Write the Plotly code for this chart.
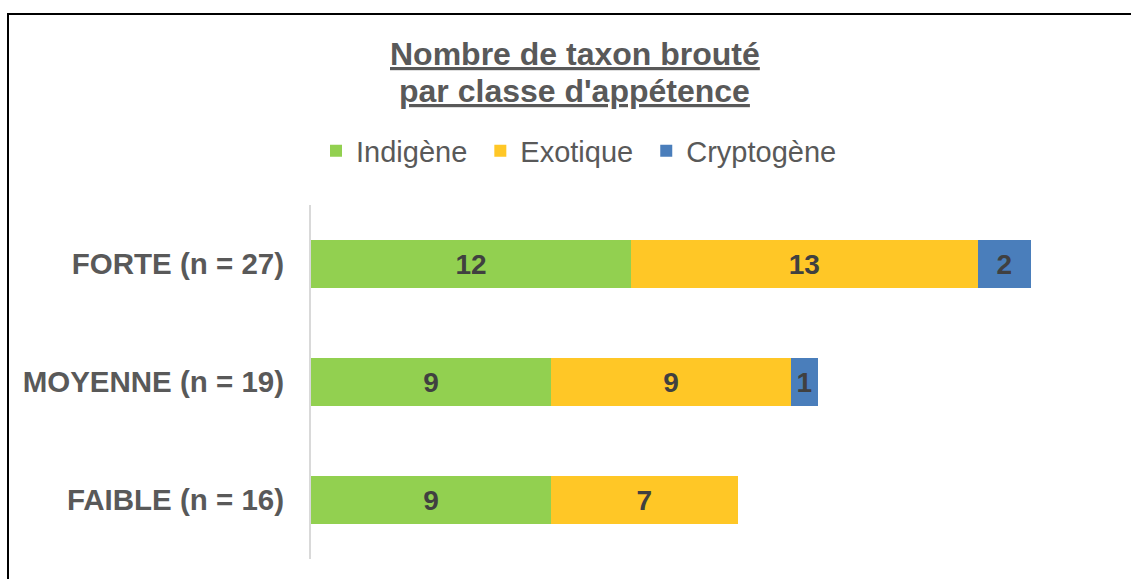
import plotly.graph_objects as go

# Appetence classes (bottom to top) and counts per origin status
categories = ["FAIBLE (n = 16)", "MOYENNE (n = 19)", "FORTE (n = 27)"]
indigene = [9, 9, 12]
exotique = [7, 9, 13]
cryptogene = [0, 1, 2]

series = [
    ("Indigène ", indigene, "#92D050"),
    ("Exotique ", exotique, "#FFC726"),
    ("Cryptogène", cryptogene, "#4A7EBB"),
]

title_lines = ["Nombre de taxon brouté", "par classe d'appétence"]

W, H = 1131, 579
ML, MR, MT, MB = 311, 20, 205, 20
PW, PH = W - ML - MR, H - MT - MB
FONT = "Liberation Sans, Arial"


def px_x(px):
    return (px - ML) / PW


def px_y(py):
    return (H - MB - py) / PH


fig = go.Figure()
for name, vals, color in series:
    fig.add_trace(go.Bar(
        y=categories,
        x=vals,
        name=name,
        orientation="h",
        marker=dict(color=color, line=dict(width=0)),
        text=[str(v) if v else "" for v in vals],
        textposition="inside",
        insidetextanchor="middle",
        textfont=dict(family=FONT, size=28, color="#404040", weight="bold"),
        cliponaxis=False,
    ))

# two-line underlined title
annotations = []
for line, center_y in zip(title_lines, [54, 91]):
    annotations.append(dict(
        text=f"<u>{line}</u>",
        xref="paper", yref="paper",
        x=px_x(574.5), y=px_y(center_y),
        xanchor="center", yanchor="middle",
        showarrow=False,
        font=dict(family=FONT, size=32, color="#595959", weight="bold"),
    ))

fig.update_layout(
    width=W,
    height=H,
    margin=dict(l=ML, r=MR, t=MT, b=MB, pad=0),
    barmode="stack",
    bargap=0.6,
    paper_bgcolor="white",
    plot_bgcolor="white",
    uniformtext=dict(minsize=28, mode="show"),
    annotations=annotations,
    legend=dict(
        orientation="h",
        x=px_x(579), xanchor="center",
        y=px_y(151), yanchor="middle",
        font=dict(family=FONT, size=29, color="#595959"),
        traceorder="normal",
        itemclick=False,
    ),
    xaxis=dict(
        range=[0, 30],
        visible=False,
        showgrid=False,
        zeroline=False,
    ),
    yaxis=dict(
        showline=True,
        linecolor="#D9D9D9",
        linewidth=2,
        showgrid=False,
        zeroline=False,
        ticks="",
        ticklabelstandoff=19,
        tickfont=dict(family=FONT, size=29.5, color="#595959", weight="bold"),
    ),
    shapes=[
        dict(
            type="rect", xref="paper", yref="paper",
            x0=px_x(8), x1=px_x(1200), y0=px_y(650), y1=px_y(14),
            line=dict(color="black", width=2),
            fillcolor="rgba(0,0,0,0)",
            layer="above",
        )
    ],
)

fig.write_html("out.html")
